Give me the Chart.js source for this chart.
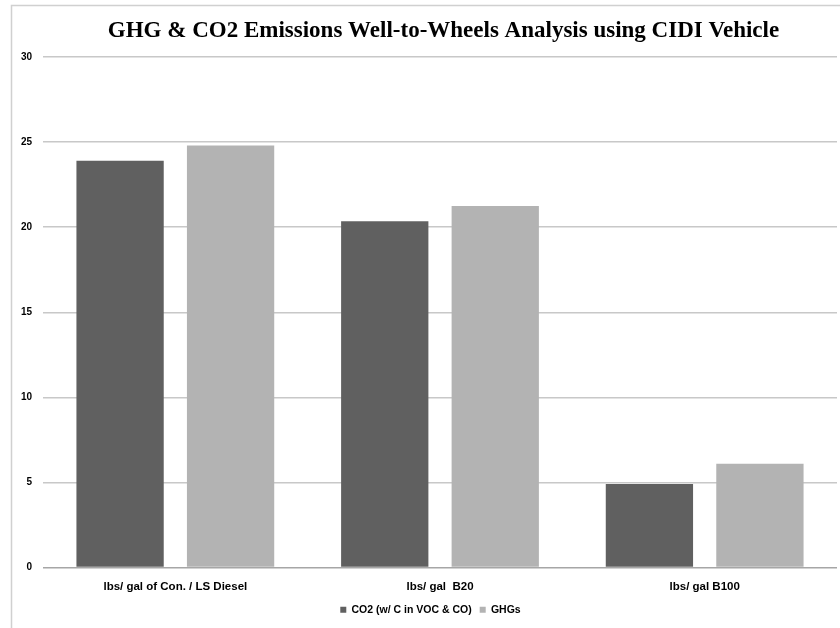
<!DOCTYPE html>
<html>
<head>
<meta charset="utf-8">
<script src="https://cdn.jsdelivr.net/npm/chart.js@4/dist/chart.umd.min.js"></script>
<style>
  html, body { margin: 0; padding: 0; background: #fff; }
  #wrap { position: relative; width: 840px; height: 628px; }
</style>
</head>
<body>
<div id="wrap"><canvas id="c" width="840" height="628"></canvas></div>
<script>
const categories = ['lbs/ gal of Con. / LS Diesel', 'lbs/ gal  B20', 'lbs/ gal B100'];
const co2Values = [23.9, 20.35, 4.9];
const ghgValues = [24.8, 21.25, 6.1];
const seriesNames = ['CO2 (w/ C in VOC & CO)', 'GHGs'];
const titleText = 'GHG & CO2 Emissions Well-to-Wheels Analysis using CIDI Vehicle';

const sansFont = "'Liberation Sans Narrow', 'Liberation Sans', Arial, sans-serif";
const serifFont = "'Liberation Serif', 'Times New Roman', serif";

// light frame along the left and top edges, plus the heading
const framePlugin = {
  id: 'frame',
  afterLayout(chart) {
    // nudge the legend a little to the right of the canvas centre
    if (chart.legend) {
      chart.legend.left += 6;
      chart.legend.right += 6;
    }
  },
  beforeDraw(chart) {
    const ctx = chart.ctx;
    ctx.save();
    ctx.fillStyle = '#fff';
    ctx.fillRect(0, 0, chart.width, chart.height);
    ctx.strokeStyle = '#d0d0d0';
    ctx.lineWidth = 1.5;
    ctx.beginPath();
    ctx.moveTo(11.5, chart.height);
    ctx.lineTo(11.5, 5.5);
    ctx.lineTo(chart.width, 5.5);
    ctx.stroke();
    ctx.restore();
  },
  afterDraw(chart) {
    const ctx = chart.ctx;
    const area = chart.chartArea;
    ctx.save();
    ctx.fillStyle = '#000';
    ctx.font = 'bold 23px ' + serifFont;
    ctx.textAlign = 'center';
    ctx.textBaseline = 'middle';
    ctx.fillText(titleText, (area.left + area.right) / 2 + 3.5, 31);
    ctx.restore();
  }
};

new Chart(document.getElementById('c'), {
  type: 'bar',
  data: {
    labels: categories,
    datasets: [
      { label: seriesNames[0], data: co2Values, backgroundColor: '#606060', borderWidth: 0 },
      { label: seriesNames[1], data: ghgValues, backgroundColor: '#b3b3b3', borderWidth: 0 }
    ]
  },
  options: {
    responsive: false,
    animation: false,
    categoryPercentage: 0.835,
    barPercentage: 0.79,
    layout: { padding: { left: 12, right: 3, top: 57, bottom: 3 } },
    plugins: {
      title: { display: false },
      legend: {
        position: 'bottom',
        labels: {
          color: '#000',
          boxWidth: 6,
          boxHeight: 6,
          padding: 8,
          font: { family: sansFont, size: 10.5, weight: 'bold' }
        }
      },
      tooltip: { enabled: false }
    },
    scales: {
      x: {
        grid: { display: false, drawTicks: false },
        border: { display: false },
        ticks: { color: '#000', padding: 12, font: { family: sansFont, size: 11.5, weight: 'bold' } },
        afterFit(scale) { scale.height = 29; }
      },
      y: {
        min: 0, max: 30,
        ticks: { stepSize: 5, color: '#000', padding: 11, font: { family: sansFont, size: 10, weight: 'bold' } },
        grid: {
          drawTicks: false,
          lineWidth: 1.5,
          color: (ctx) => ctx.tick && ctx.tick.value === 0 ? '#a6a6a6' : '#c8c8c8'
        },
        border: { display: false },
        afterFit(scale) { scale.width = 31; }
      }
    }
  },
  plugins: [framePlugin]
});
</script>
</body>
</html>
